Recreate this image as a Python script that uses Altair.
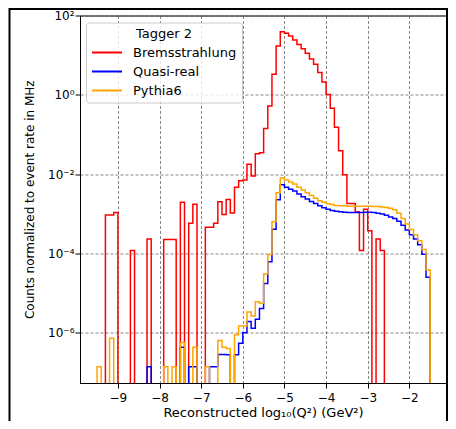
import altair as alt
import pandas as pd

# Histogram binning (log10 Q^2), bins of 0.1 starting at -10.0
BIN_START = -10.0
BIN_WIDTH = 0.1
N_BINS = 90

series_names = ["Bremsstrahlung", "Quasi-real", "Pythia6"]
series_colors = ["#ff0000", "#0000ff", "#ffa500"]

N = None
# log10(counts normalized to event rate in MHz) per bin; None = empty bin
brems_log10 = [
    N, N, N, N, N, N, N, -3.03, -3.03, -2.97,
    N, N, N, -3.93, N, N, N, -3.64, N, N,
    N, -3.65, -3.65, -3.65, N, -2.71, N, -3.24, -2.76, N,
    N, -3.34, -3.34, -3.24, -2.70, -3.02, -2.64, -2.98, -2.33, -2.17,
    -2.15, -1.75, -2.05, -1.49, -1.46, -0.85, -0.28, 0.52, 1.23, 1.59,
    1.55, 1.48, 1.38, 1.27, 1.16, 1.05, 0.90, 0.77, 0.56, 0.32,
    0.01, -0.34, -0.82, -1.41, -2.02, -2.74, -2.74, -2.95, -3.93, -2.89,
    -3.43, N, -3.64, -3.93, N, N, N, N, N, N,
    N, N, N, N, N, N, N, N, N, N,
]
quasi_log10 = [
    N, N, N, N, N, N, N, N, N, N,
    N, N, N, N, N, N, N, -6.86, N, N,
    N, N, N, N, N, -6.37, N, -6.86, -6.86, N,
    N, N, -6.86, -6.86, -6.55, -6.55, -6.56, N, -6.56, -6.27,
    -6.00, -5.72, -5.89, -5.66, -5.39, -4.76, -4.21, -3.39, -2.65, -2.27,
    -2.33, -2.38, -2.43, -2.50, -2.57, -2.63, -2.69, -2.74, -2.80, -2.85,
    -2.89, -2.92, -2.94, -2.95, -2.96, -2.97, -2.97, -2.97, -2.97, -2.96,
    -2.96, -2.97, -2.99, -3.01, -3.04, -3.08, -3.12, -3.19, -3.29, -3.41,
    -3.53, -3.64, -3.78, -4.02, -4.60, N, N, N, N, N,
]
pythia_log10 = [
    N, N, N, N, N, -6.86, N, N, -6.14, N,
    N, N, N, N, N, N, N, N, N, N,
    N, -6.86, N, -6.86, N, -6.25, N, N, -6.37, N,
    N, -6.86, N, N, -6.20, -6.37, -6.40, N, -6.05, -5.83,
    -5.83, -5.48, -5.58, -5.22, -5.26, -4.52, -4.03, -3.20, -2.47, -2.10,
    -2.15, -2.20, -2.25, -2.33, -2.40, -2.47, -2.54, -2.61, -2.67, -2.71,
    -2.75, -2.77, -2.79, -2.80, -2.80, -2.81, -2.81, -2.81, -2.81, -2.81,
    -2.81, -2.82, -2.82, -2.83, -2.84, -2.86, -2.90, -2.99, -3.12, -3.26,
    -3.40, -3.53, -3.68, -3.90, -4.42, N, N, N, N, N,
]

x_ticks = [-9, -8, -7, -6, -5, -4, -3, -2]
y_ticks = [1e-6, 1e-4, 1e-2, 1, 1e2]
X_DOMAIN = [-9.91, -1.12]
Y_DOMAIN = [10 ** -7.27, 100]
EMPTY = 1e-12  # empty bins drop below the axis (clipped)

rows = []
for name, logs in zip(series_names, [brems_log10, quasi_log10, pythia_log10]):
    for i in range(N_BINS + 1):
        edge = round(BIN_START + i * BIN_WIDTH, 2)
        v = logs[i] if i < N_BINS else None
        rows.append({"x": edge, "y": (10 ** v) if v is not None else EMPTY, "series": name})
df = pd.DataFrame(rows)

FONT = "DejaVu Sans"

y_label_expr = (
    "datum.value > 10 ? '10²' : datum.value > 0.1 ? '10⁰' : datum.value > 0.001 ? '10⁻²' : "
    "datum.value > 0.00001 ? '10⁻⁴' : '10⁻⁶'"
)

color = alt.Color(
    "series:N",
    scale=alt.Scale(domain=series_names, range=series_colors),
    legend=alt.Legend(
        title="Tagger 2",
        orient="none",
        legendX=6,
        legendY=7,
        symbolType="M-1,0H4",
        symbolSize=144,
        symbolStrokeWidth=2,
        labelOffset=28,
        labelFontSize=13,
        labelFont=FONT,
        labelColor="black",
        titleFontSize=13,
        titleFont=FONT,
        titleFontWeight="normal",
        titleColor="black",
        titleAnchor="middle",
        titlePadding=5,
        rowPadding=5,
        padding=5,
        fillColor="rgba(255,255,255,0.8)",
        strokeColor="#cccccc",
        cornerRadius=3,
    ),
)

x_enc = alt.X(
    "x:Q",
    scale=alt.Scale(domain=X_DOMAIN, nice=False, zero=False),
    axis=alt.Axis(
        values=x_ticks,
        title="Reconstructed log₁₀(Q²) (GeV²)",
        format="d",
    ),
)
y_enc = alt.Y(
    "y:Q",
    scale=alt.Scale(type="log", domain=Y_DOMAIN, nice=False),
    axis=alt.Axis(
        values=y_ticks,
        labelExpr=y_label_expr,
        title="Counts normalized to event rate in MHz",
    ),
)

layers = []
for name in series_names:
    layers.append(
        alt.Chart(df[df.series == name])
        .mark_line(interpolate="step-after", strokeWidth=1.5, clip=True)
        .encode(x=x_enc, y=y_enc, color=color)
    )

frame = (
    alt.Chart(pd.DataFrame({"f": [0]}))
    .mark_rect(fill="transparent", stroke="black", strokeWidth=2, clip=False)
    .encode(x=alt.value(-70.5), x2=alt.value(367), y=alt.value(-6.5), y2=alt.value(700))
)

chart = (
    alt.layer(*layers, frame)
    .properties(
        width=366,
        height=367.5,
        autosize=alt.AutoSizeParams(type="none"),
        padding={"left": 72, "top": 7.5, "right": 2, "bottom": 38},
        background="white",
    )
    .configure_view(stroke="black", strokeWidth=1)
    .configure_axis(
        labelFont=FONT,
        titleFont=FONT,
        labelFontSize=12,
        titleFontSize=12,
        titleFontWeight="normal",
        labelColor="black",
        titleColor="black",
        domainColor="black",
        tickColor="black",
        tickSize=5,
        grid=True,
        gridColor="#444444",
        gridDash=[3, 2],
        gridWidth=0.8,
        gridOpacity=0.8,
    )
    .configure_axisX(labelPadding=4, titlePadding=3, titleFontSize=13)
    .configure_axisY(labelPadding=1, titlePadding=11)
)

chart.save("out.html", embed_options={"renderer": "svg", "actions": False})
